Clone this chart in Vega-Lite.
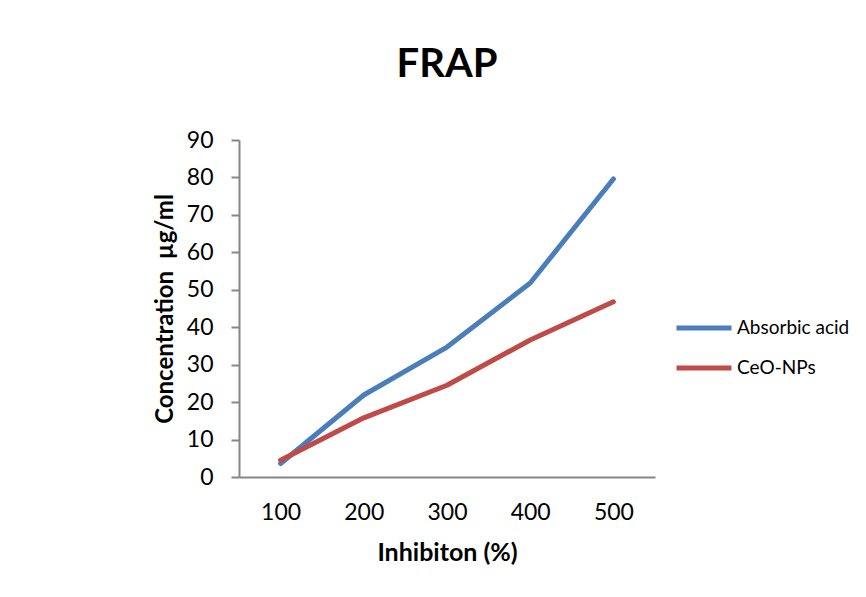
{
  "$schema": "https://vega.github.io/schema/vega-lite/v6.json",
  "autosize": "none",
  "width": 416,
  "height": 337,
  "padding": {"left": 239, "top": 140, "right": 211, "bottom": 120},
  "background": "white",
  "title": {
    "text": "FRAP",
    "font": "Lato",
    "fontSize": 40,
    "fontWeight": "bold",
    "color": "#000000",
    "anchor": "middle",
    "frame": "group",
    "baseline": "alphabetic",
    "offset": 12
  },
  "data": {
    "values": [
      {"inhibition": "100", "series": "Absorbic acid", "value": 3.6},
      {"inhibition": "200", "series": "Absorbic acid", "value": 21.9},
      {"inhibition": "300", "series": "Absorbic acid", "value": 34.7},
      {"inhibition": "400", "series": "Absorbic acid", "value": 51.8},
      {"inhibition": "500", "series": "Absorbic acid", "value": 79.6},
      {"inhibition": "100", "series": "CeO-NPs", "value": 4.5},
      {"inhibition": "200", "series": "CeO-NPs", "value": 15.8},
      {"inhibition": "300", "series": "CeO-NPs", "value": 24.5},
      {"inhibition": "400", "series": "CeO-NPs", "value": 36.6},
      {"inhibition": "500", "series": "CeO-NPs", "value": 46.8}
    ]
  },
  "mark": {"type": "line", "strokeWidth": 5, "strokeCap": "round", "strokeJoin": "round"},
  "encoding": {
    "x": {
      "field": "inhibition",
      "type": "ordinal",
      "scale": {"type": "point", "padding": 0.5},
      "axis": {
        "title": "Inhibiton (%)",
        "labelAngle": 0,
        "ticks": false,
        "labelPadding": 24,
        "titlePadding": 16,
        "labelFontSize": 23,
        "titleFontSize": 25
      }
    },
    "y": {
      "field": "value",
      "type": "quantitative",
      "scale": {"domain": [0, 90], "nice": false},
      "axis": {
        "title": "Concentration\u00a0 µg/ml",
        "values": [0, 10, 20, 30, 40, 50, 60, 70, 80, 90],
        "grid": false,
        "tickSize": 8,
        "labelPadding": 18,
        "titlePadding": 9,
        "labelFontSize": 23,
        "titleFontSize": 24
      }
    },
    "color": {
      "field": "series",
      "type": "nominal",
      "scale": {"domain": ["Absorbic acid", "CeO-NPs"], "range": ["#4A7EBB", "#BE4B48"]},
      "legend": {
        "title": null,
        "orient": "none",
        "legendX": 435,
        "legendY": 158,
        "symbolType": "stroke",
        "symbolSize": 3025,
        "symbolStrokeWidth": 5,
        "labelFontSize": 19,
        "labelFont": "Lato",
        "labelColor": "#000000",
        "labelOffset": 3,
        "rowPadding": -13
      }
    }
  },
  "config": {
    "view": {"stroke": null},
    "font": "Lato",
    "axis": {
      "labelFont": "Lato",
      "titleFont": "Lato",
      "labelColor": "#000000",
      "titleColor": "#000000",
      "titleFontWeight": "bold",
      "domainColor": "#868686",
      "domainWidth": 2,
      "tickColor": "#868686",
      "tickWidth": 2
    }
  }
}
